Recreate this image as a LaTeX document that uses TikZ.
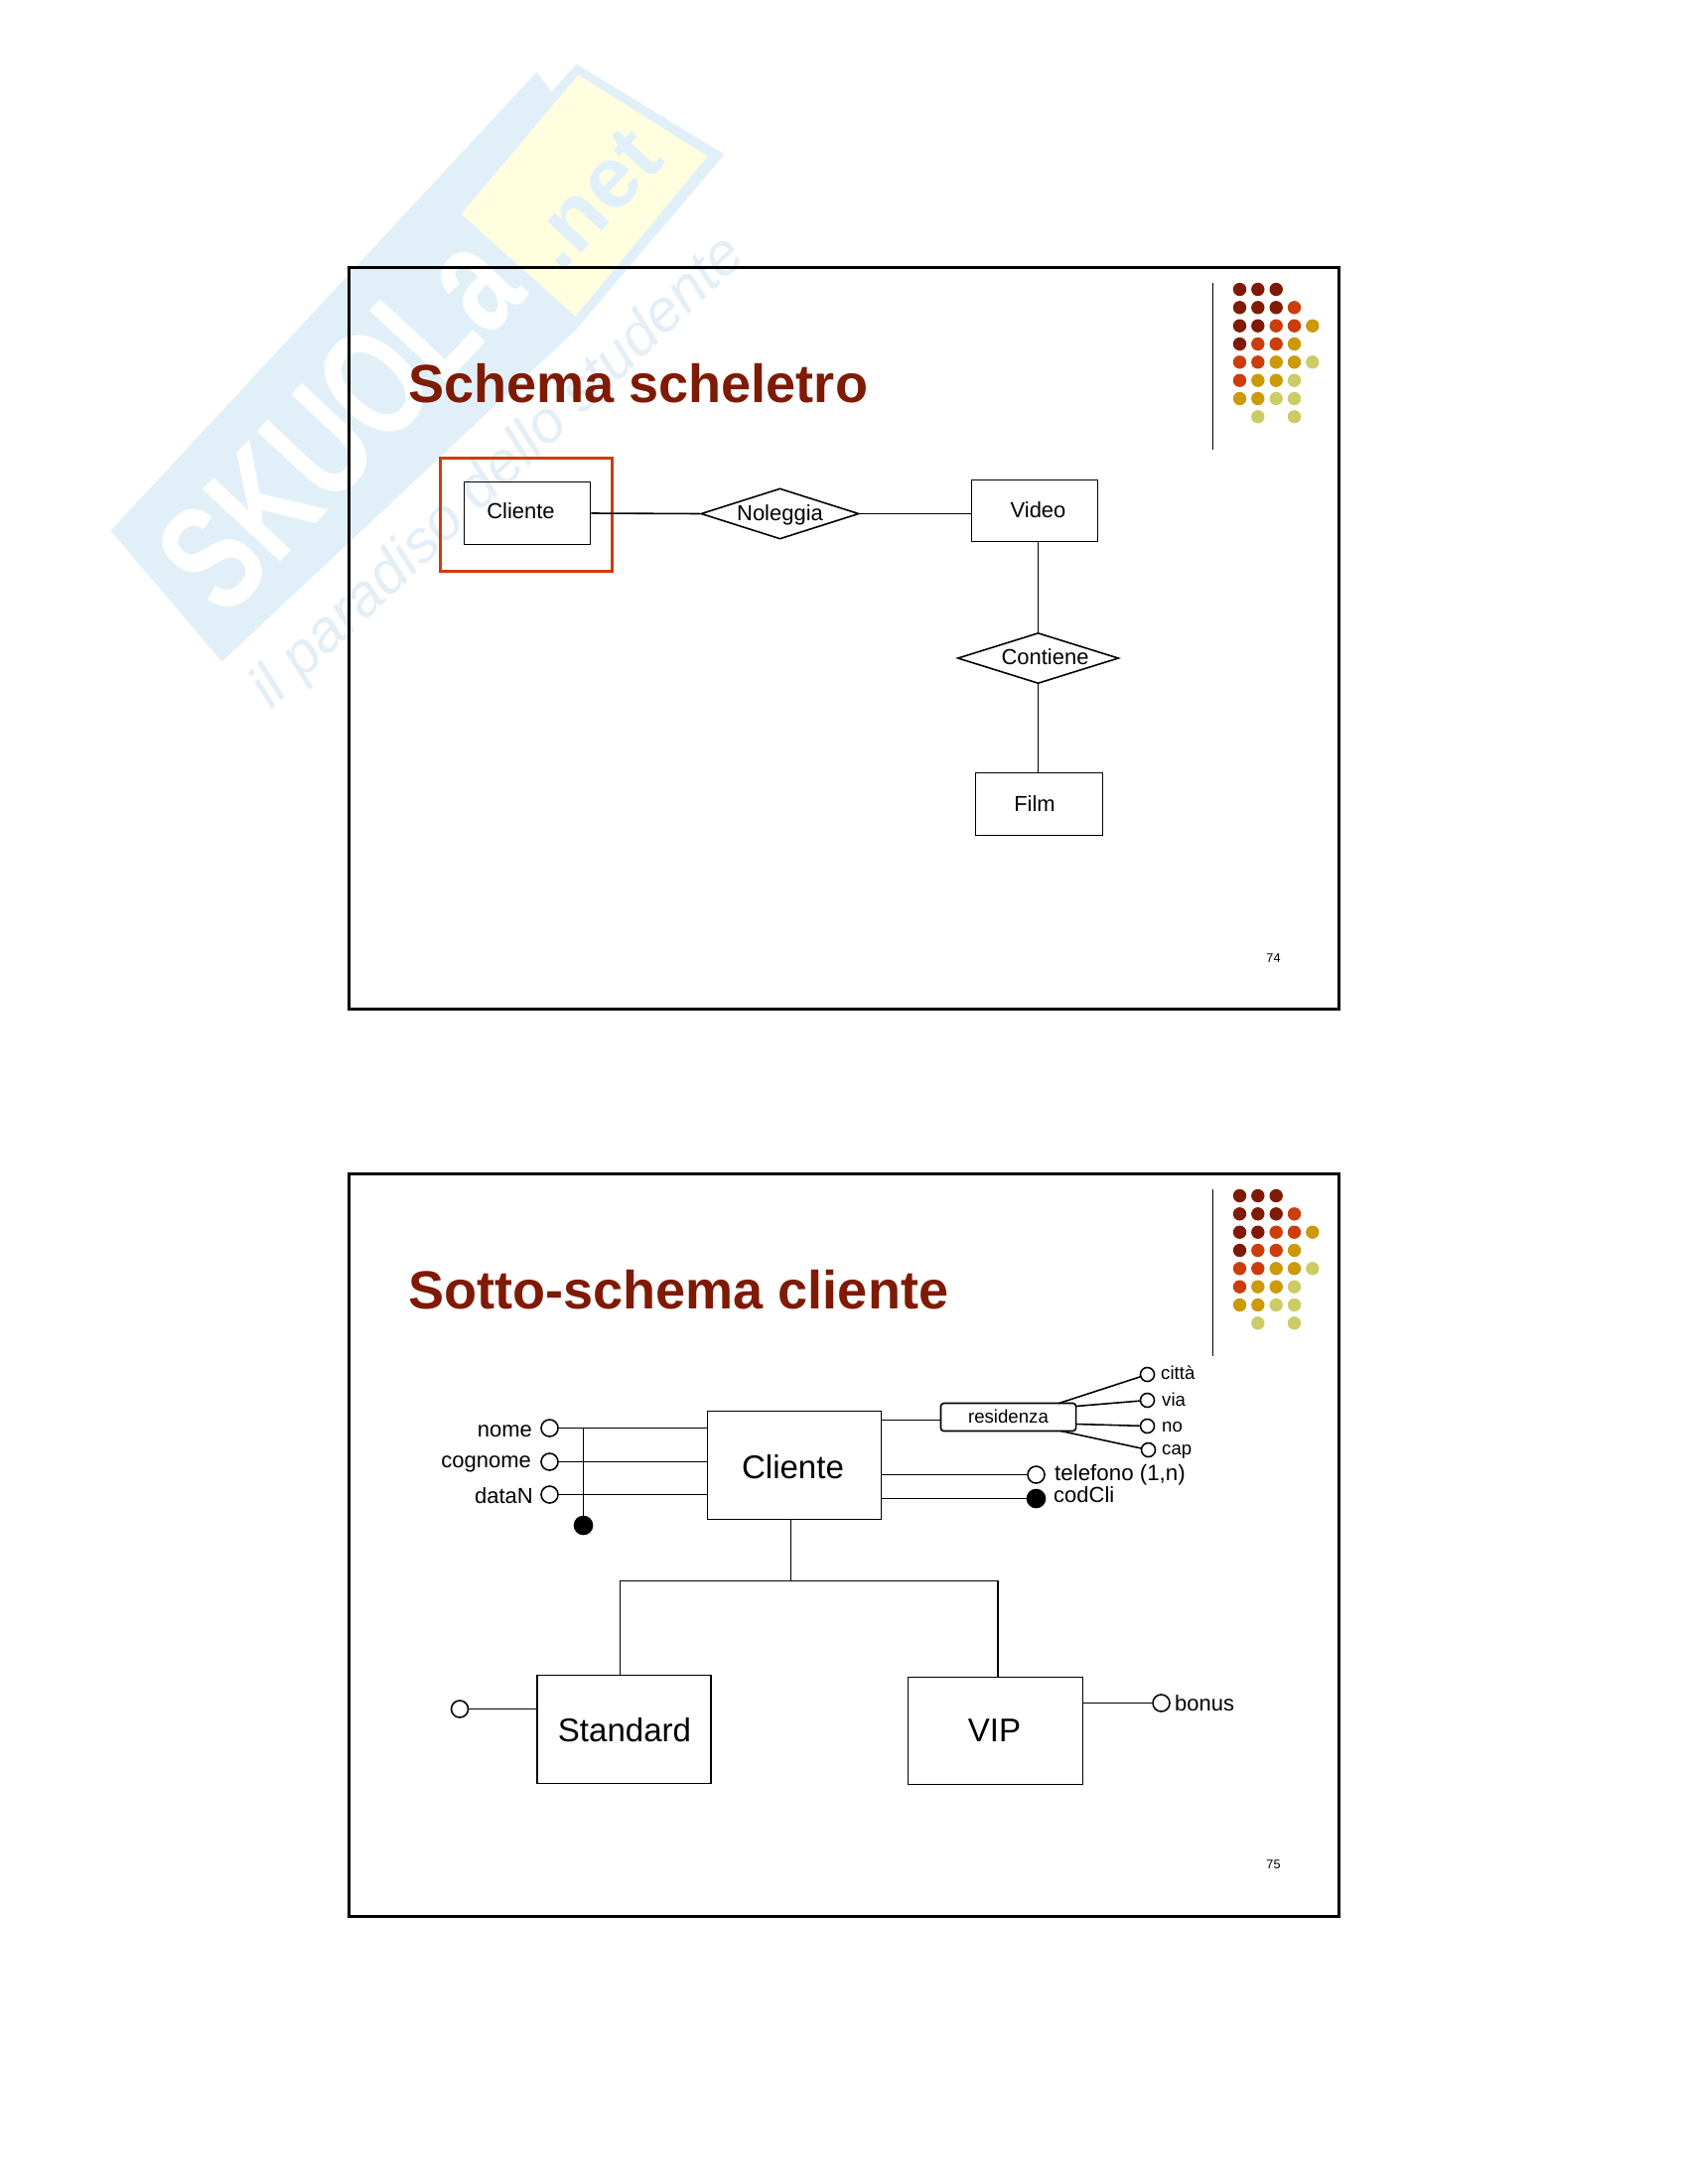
\documentclass[tikz,border=0pt]{standalone}
\usepackage{fontspec}
\setmainfont{Liberation Sans}
\usetikzlibrary{shapes.geometric}
\definecolor{darkred}{HTML}{7F1A05}
\definecolor{hotred}{HTML}{CC3D0C}
\definecolor{darkgold}{HTML}{CC9908}
\definecolor{paleolive}{HTML}{CCCC66}
\definecolor{markblue}{HTML}{E1F0F8}
\definecolor{markyellow}{HTML}{FFFFE0}
\definecolor{markline}{HTML}{E3EEF6}
\tikzset{
    slideframe/.style={draw=black, line width=1pt},
    slidetitle/.style={anchor=base west, inner sep=0pt, text=darkred, font=\fontsize{15.38}{18}\selectfont\bfseries},
    pagenum/.style={inner sep=0pt, font=\fontsize{3.6}{4}\selectfont},
    conn/.style={line width=0.45pt},
    entity/.style={draw, line width=0.45pt, rectangle, inner sep=0pt},
    relation/.style={draw, line width=0.45pt, fill=white, diamond, inner sep=0pt},
    attr/.style={draw, line width=0.45pt, fill=white, circle, inner sep=0pt, minimum size=0.17cm},
    smallattr/.style={attr, minimum size=0.14cm},
    keyattr/.style={attr, fill=black, minimum size=0.18cm},
    midtext/.style={inner sep=0pt, font=\fontsize{6.25}{7}\selectfont},
    bigtext/.style={inner sep=0pt, font=\fontsize{9.4}{11}\selectfont},
    smalltext/.style={inner sep=0pt, font=\fontsize{5.3}{6}\selectfont},
}
\begin{document}
\begin{tikzpicture}[x=0.01cm, y=-0.01cm]
    \useasboundingbox (-0.5,-0.5) rectangle (1699.5,2199.5);
    % watermark
    \fill[markblue] (111,534) -- (540,72) -- (555,92) -- (580,64) -- (729,155) -- (580,331) -- (223,666) -- cycle;
    \fill[markyellow] (582,75) -- (712,157) -- (579,318) -- (464,215) -- cycle;
    \node[rotate=47, yscale=1.4, transform shape, inner sep=0pt, text=white, font=\fontsize{31.5}{36}\selectfont\bfseries] (markname) at (341,424) {SKUOLa};
    \node[rotate=47, transform shape, inner sep=0pt, text=markblue, font=\fontsize{25}{30}\selectfont\bfseries] (marknet) at (597,200) {.net};
    \node[rotate=43.5, transform shape, inner sep=0pt, text=markline, font=\fontsize{17}{20}\selectfont\itshape] (markline) at (502,476) {il paradiso dello studente};

    % slide 74
    \draw[slideframe] (351,269) rectangle (1348,1016);
    \draw[conn] (1221,284) -- (1221,452);
    \node[slidetitle] (titleone) at (410,405) {Schema scheletro};
    \node[pagenum] (numone) at (1282,965) {74};
    % slide 75
    \draw[slideframe] (351,1182) rectangle (1348,1930);
    \draw[conn] (1221,1197) -- (1221,1365);
    \node[slidetitle] (titletwo) at (410,1318) {Sotto-schema cliente};
    \node[pagenum] (numtwo) at (1282,1878) {75};

    % dots in the corner of both slides
    \foreach \dy in {0,913} {
        \foreach \cx/\cy/\dotcol in {
            1248/291/darkred, 1266.3/291/darkred, 1284.7/291/darkred,
            1248/309.3/darkred, 1266.3/309.3/darkred, 1284.7/309.3/darkred, 1303/309.3/hotred,
            1248/327.7/darkred, 1266.3/327.7/darkred, 1284.7/327.7/hotred, 1303/327.7/hotred, 1321.3/327.7/darkgold,
            1248/346/darkred, 1266.3/346/hotred, 1284.7/346/hotred, 1303/346/darkgold,
            1248/364.3/hotred, 1266.3/364.3/hotred, 1284.7/364.3/darkgold, 1303/364.3/darkgold, 1321.3/364.3/paleolive,
            1248/382.7/hotred, 1266.3/382.7/darkgold, 1284.7/382.7/darkgold, 1303/382.7/paleolive,
            1248/401/darkgold, 1266.3/401/darkgold, 1284.7/401/paleolive, 1303/401/paleolive,
            1266.3/419.3/paleolive, 1303/419.3/paleolive} {
            \fill[\dotcol] (\cx,\cy+\dy) circle (6.7);
        }
    }

    % schema scheletro
    \draw[draw=hotred, line width=1.05pt] (443,461) rectangle (616,575);
    \node[entity, minimum width=1.27cm, minimum height=0.63cm] (cliente) at (530.5,516.5) {};
    \node[midtext] (clientetxt) at (524,514) {Cliente};
    \node[relation, minimum width=1.59cm, minimum height=0.51cm] (noleggia) at (785,517) {};
    \node[midtext] (noleggiatxt) at (785,518) {Noleggia};
    \node[entity, minimum width=1.27cm, minimum height=0.62cm] (video) at (1041.5,514) {};
    \node[midtext] (videotxt) at (1045,513) {Video};
    \node[relation, minimum width=1.62cm, minimum height=0.51cm] (contiene) at (1045,662.5) {};
    \node[midtext] (contienetxt) at (1052,661) {Contiene};
    \node[entity, minimum width=1.28cm, minimum height=0.63cm] (film) at (1046,809.5) {};
    \node[midtext] (filmtxt) at (1041.5,809) {Film};
    \draw[conn] (cliente.east) -- (noleggia.west);
    \draw[conn] (noleggia.east) -- (noleggia.east -| video.west);
    \draw[conn] (contiene.north |- video.south) -- (contiene.north);
    \draw[conn] (contiene.south) -- (contiene.south |- film.north);

    % sotto-schema cliente
    \node[entity, minimum width=1.75cm, minimum height=1.09cm] (clientebox) at (799.5,1475.5) {};
    \node[bigtext] (clienteboxtxt) at (798,1477) {Cliente};
    \node[entity, minimum width=1.75cm, minimum height=1.09cm] (standard) at (628,1741.5) {};
    \node[bigtext] (standardtxt) at (628.5,1742) {Standard};
    \node[entity, minimum width=1.76cm, minimum height=1.08cm] (vip) at (1002,1743) {};
    \node[bigtext] (viptxt) at (1001,1743) {VIP};
    \coordinate (split) at (796,1592);
    \draw[conn] (split |- clientebox.south) -- (split);
    \draw[conn] (624,1687) -- (624,1592) -- (1004.5,1592) -- (1004.5,1689);

    \node[attr] (nome) at (553,1438) {};
    \node[attr] (cognome) at (553,1472) {};
    \node[attr] (datan) at (553,1505) {};
    \node[midtext, anchor=base east] (nometxt) at (536,1447) {nome};
    \node[midtext, anchor=base east] (cognometxt) at (535,1478) {cognome};
    \node[midtext, anchor=base east] (datantxt) at (537,1514) {dataN};
    \draw[conn] (nome.east) -- (nome.east -| clientebox.west);
    \draw[conn] (cognome.east) -- (cognome.east -| clientebox.west);
    \draw[conn] (datan.east) -- (datan.east -| clientebox.west);
    \node[keyattr] (idnome) at (587,1536) {};
    \coordinate (idtop) at (idnome |- nome.east);
    \draw[conn] (idtop) -- (idnome);

    \node[entity, rounded corners=0.03cm, minimum width=1.36cm, minimum height=0.28cm] (residenza) at (1015,1427) {};
    \node[smalltext, anchor=base] (residenzatxt) at (1015,1433) {residenza};
    \coordinate (resin) at (947,1430);
    \draw[conn] (resin -| clientebox.east) -- (resin);
    \node[smallattr] (citta) at (1155,1384) {};
    \node[smallattr] (via) at (1155,1410) {};
    \node[smallattr] (no) at (1155,1436) {};
    \node[smallattr] (cap) at (1156,1460) {};
    \node[smalltext, anchor=base west] (cittatxt) at (1168,1389) {città};
    \node[smalltext, anchor=base west] (viatxt) at (1169,1416) {via};
    \node[smalltext, anchor=base west] (notxt) at (1169,1442) {no};
    \node[smalltext, anchor=base west] (captxt) at (1169,1465) {cap};
    \coordinate (rescitta) at (1066,1413);
    \coordinate (resvia) at (1083,1416);
    \coordinate (resno) at (1083,1434);
    \coordinate (rescap) at (1068,1441);
    \draw[conn] (rescitta) -- (citta);
    \draw[conn] (resvia) -- (via);
    \draw[conn] (resno) -- (no);
    \draw[conn] (rescap) -- (cap);

    \node[attr] (telefono) at (1043,1485) {};
    \node[keyattr] (codcli) at (1043,1509) {};
    \node[midtext, anchor=base west, font=\fontsize{6.35}{7}\selectfont] (telefonotxt) at (1061,1491) {telefono (1,n)};
    \node[midtext, anchor=base west] (codclitxt) at (1060,1513) {codCli};
    \draw[conn] (telefono.west -| clientebox.east) -- (telefono.west);
    \draw[conn] (codcli.west -| clientebox.east) -- (codcli.west);

    \node[attr] (stdattr) at (462.5,1721) {};
    \draw[conn] (stdattr.east) -- (stdattr.east -| standard.west);
    \node[attr] (bonus) at (1169,1715) {};
    \node[midtext, anchor=base west] (bonustxt) at (1182,1723) {bonus};
    \draw[conn] (bonus.west -| vip.east) -- (bonus.west);
\end{tikzpicture}
\end{document}
